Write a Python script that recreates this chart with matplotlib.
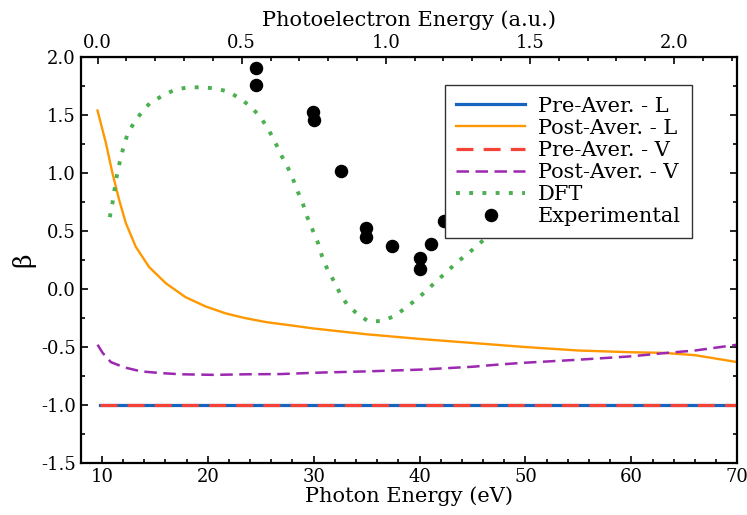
import numpy as np
import matplotlib.pyplot as plt
from matplotlib.ticker import MultipleLocator

plt.rcParams['font.family'] = ['DejaVu Serif']
plt.rcParams['axes.unicode_minus'] = False

# photon energy (eV) / beta values
pre_l_x = [9.84, 70.0]
pre_l_y = [-1.0, -1.0]
pre_v_x = [9.84, 70.0]
pre_v_y = [-1.0, -1.0]

post_l_x = [9.59, 10.38, 11.0, 11.63, 12.26, 13.2, 14.46, 16.04, 17.9, 19.8, 21.7, 23.5,
            25.5, 28.0, 30.0, 35.0, 40.0, 45.0, 50.0, 55.0, 60.0, 63.0, 66.0, 70.0]
post_l_y = [1.54, 1.26, 1.0, 0.77, 0.57, 0.365, 0.19, 0.05, -0.07, -0.15, -0.21, -0.25,
            -0.285, -0.315, -0.34, -0.39, -0.43, -0.465, -0.50, -0.53, -0.545, -0.55, -0.57, -0.63]

post_v_x = [9.59, 10.07, 10.85, 12.1, 13.7, 15.6, 17.5, 20.6, 23.7, 26.9, 30.7, 35.0,
            40.0, 45.0, 47.6, 50.0, 54.9, 60.0, 63.4, 66.0, 70.0]
post_v_y = [-0.48, -0.55, -0.63, -0.675, -0.71, -0.725, -0.735, -0.74, -0.735, -0.733,
            -0.72, -0.71, -0.695, -0.67, -0.65, -0.635, -0.61, -0.58, -0.55, -0.53, -0.48]

dft_x = [10.75, 11.0, 11.2, 11.4, 11.7, 12.0, 12.4, 13.0, 13.8, 14.6, 15.8, 16.9, 18.2,
         19.4, 20.8, 22.0, 23.1, 24.1, 25.0, 25.7, 26.3, 26.9, 27.5, 28.0, 28.5, 29.0,
         29.4, 29.9, 30.4, 30.8, 31.3, 31.9, 32.5, 33.2, 34.2, 35.2, 36.5, 37.7, 38.7,
         39.7, 40.7, 41.6, 42.6, 43.5, 44.5, 45.5, 47.0, 49.0, 51.0]
dft_y = [0.62, 0.74, 0.86, 0.97, 1.10, 1.21, 1.33, 1.43, 1.53, 1.61, 1.67, 1.72, 1.74,
         1.74, 1.73, 1.70, 1.64, 1.57, 1.48, 1.38, 1.28, 1.16, 1.06, 0.96, 0.84, 0.73,
         0.62, 0.51, 0.40, 0.28, 0.17, 0.07, -0.04, -0.14, -0.22, -0.28, -0.275, -0.23, -0.16,
         -0.09, -0.01, 0.07, 0.15, 0.23, 0.30, 0.38, 0.50, 0.66, 0.82]

exp_x = [24.6, 24.6, 29.9, 30.0, 32.6, 34.9, 34.9, 37.4, 40.0, 40.0, 41.1, 42.3]
exp_y = [1.91, 1.76, 1.53, 1.46, 1.02, 0.53, 0.45, 0.37, 0.27, 0.17, 0.39, 0.59]

IP = 9.6  # eV, offset between photon energy and photoelectron energy
HARTREE = 27.2114

fig = plt.figure(figsize=(7.47, 5.15), dpi=100)
ax = fig.add_axes([0.108, 0.101, 0.879, 0.788])

ax.plot(pre_l_x, pre_l_y, color='#1565C0', lw=2.3, label='Pre-Aver. - L')
ax.plot(post_l_x, post_l_y, color='#FF9800', lw=1.7, label='Post-Aver. - L')
ax.plot(pre_v_x, pre_v_y, color='#F44336', lw=2.3, dashes=(5.3, 3.2), label='Pre-Aver. - V')
ax.plot(post_v_x, post_v_y, color='#9C27B0', lw=1.8, dashes=(5.0, 2.6), label='Post-Aver. - V')
ax.plot(dft_x, dft_y, color='#4CAF50', lw=2.8, dashes=(1.0, 2.4), label='DFT')
ax.plot(exp_x, exp_y, 'o', color='black', ms=8.7, label='Experimental')

ax.set_xlim(8, 70)
ax.set_ylim(-1.5, 2.0)
ax.xaxis.set_major_locator(MultipleLocator(10))
ax.xaxis.set_minor_locator(MultipleLocator(2))
ax.yaxis.set_major_locator(MultipleLocator(0.5))
ax.yaxis.set_minor_locator(MultipleLocator(0.25))
ax.tick_params(which='both', direction='in', top=False, right=True, width=1.2)
ax.tick_params(which='major', length=5, labelsize=13)
ax.tick_params(which='minor', length=3)
for s in ax.spines.values():
    s.set_linewidth(1.6)

ax.set_xlabel('Photon Energy (eV)', fontsize=15, labelpad=0)
ax.set_ylabel('β', fontsize=18, labelpad=4)

top = ax.secondary_xaxis('top', functions=(lambda e: (e - IP) / HARTREE,
                                          lambda a: a * HARTREE + IP))
top.set_xticks([0.0, 0.5, 1.0, 1.5, 2.0])
top.xaxis.set_minor_locator(MultipleLocator(0.1))
top.tick_params(which='both', direction='in', width=1.2)
top.tick_params(which='major', length=5, labelsize=13)
top.tick_params(which='minor', length=3)
top.set_xlabel('Photoelectron Energy (a.u.)', fontsize=15, labelpad=6)

leg = ax.legend(loc='upper right', bbox_to_anchor=(0.931, 0.931), borderaxespad=0,
                fontsize=15, frameon=True, fancybox=False, framealpha=1,
                edgecolor='#333333', handlelength=3.3, handletextpad=0.6,
                labelspacing=0.15, borderpad=0.55)
leg.get_frame().set_linewidth(1.0)

fig.savefig('out.png', dpi=100)
